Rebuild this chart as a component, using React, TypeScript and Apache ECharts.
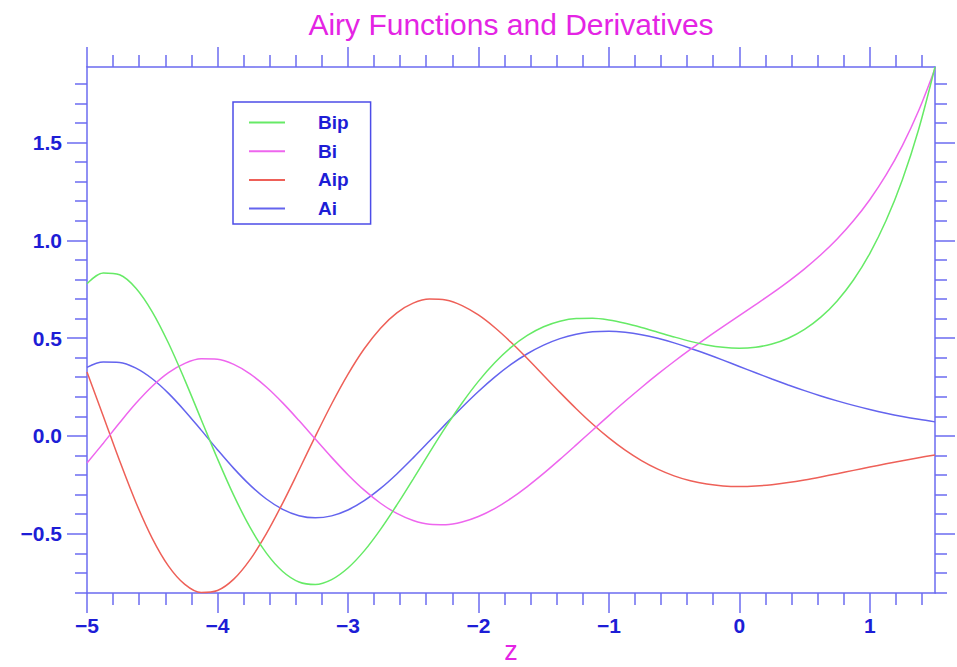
import React, { useEffect, useRef } from 'react';
import * as echarts from 'echarts';

// z sample points (step 0.125)
const Z = [-5, -4.875, -4.75, -4.625, -4.5, -4.375, -4.25, -4.125, -4, -3.875, -3.75, -3.625, -3.5, -3.375, -3.25, -3.125, -3, -2.875, -2.75, -2.625, -2.5, -2.375, -2.25, -2.125, -2, -1.875, -1.75, -1.625, -1.5, -1.375, -1.25, -1.125, -1, -0.875, -0.75, -0.625, -0.5, -0.375, -0.25, -0.125, 0, 0.125, 0.25, 0.375, 0.5, 0.625, 0.75, 0.875, 1, 1.125, 1.25, 1.375, 1.5];
const AI = [0.3508, 0.3776, 0.3759, 0.3465, 0.2922, 0.2174, 0.1278, 0.0297, -0.0703, -0.1659, -0.2516, -0.3226, -0.3755, -0.4079, -0.419, -0.4088, -0.3788, -0.3311, -0.2685, -0.1945, -0.1123, -0.0259, 0.0616, 0.1469, 0.2274, 0.3008, 0.3655, 0.4202, 0.4643, 0.4975, 0.52, 0.5325, 0.5356, 0.5303, 0.5178, 0.4992, 0.4757, 0.4485, 0.4187, 0.3873, 0.355, 0.3228, 0.2912, 0.2607, 0.2317, 0.2045, 0.1793, 0.1562, 0.1353, 0.1164, 0.0996, 0.0848, 0.0718];
const AIP = [0.3272, 0.101, -0.1271, -0.3401, -0.5234, -0.6656, -0.7592, -0.8008, -0.7906, -0.7323, -0.6323, -0.4995, -0.3433, -0.1743, -0.0023, 0.1633, 0.3146, 0.4455, 0.5511, 0.6293, 0.6789, 0.7001, 0.695, 0.6665, 0.6183, 0.5542, 0.4787, 0.3957, 0.3092, 0.2227, 0.1391, 0.0609, -0.0102, -0.0727, -0.126, -0.1698, -0.2041, -0.2294, -0.2464, -0.2559, -0.2588, -0.2562, -0.2491, -0.2383, -0.2249, -0.2096, -0.1932, -0.1762, -0.1591, -0.1425, -0.1265, -0.1114, -0.0974];
const BI = [-0.1384, -0.037, 0.0672, 0.1665, 0.2539, 0.3235, 0.3712, 0.3943, 0.3922, 0.3657, 0.3172, 0.2501, 0.169, 0.0786, -0.016, -0.1097, -0.1981, -0.2773, -0.3442, -0.3963, -0.4324, -0.4515, -0.4539, -0.4404, -0.4123, -0.3713, -0.3195, -0.2589, -0.1918, -0.1201, -0.0459, 0.0293, 0.104, 0.1771, 0.2478, 0.3156, 0.3804, 0.4422, 0.5014, 0.5587, 0.6149, 0.6712, 0.7287, 0.7892, 0.8543, 0.9261, 1.0069, 1.0996, 1.2074, 1.3341, 1.4844, 1.6637, 1.8789];
const BIP = [0.7784, 0.833, 0.824, 0.7552, 0.6347, 0.4738, 0.2855, 0.0841, -0.1167, -0.3042, -0.4678, -0.5993, -0.693, -0.7466, -0.7595, -0.7345, -0.6752, -0.5877, -0.4777, -0.353, -0.2204, -0.0853, 0.0459, 0.1685, 0.2788, 0.374, 0.4525, 0.5137, 0.5579, 0.5861, 0.5998, 0.6011, 0.5924, 0.576, 0.5545, 0.5303, 0.5059, 0.4835, 0.4652, 0.4528, 0.4483, 0.4534, 0.4699, 0.4996, 0.5446, 0.6072, 0.6903, 0.7973, 0.9324, 1.1011, 1.3102, 1.5682, 1.8862];

// axis ranges and tick values
const X_MIN = -5;
const X_MAX = 1.5;
const Y_MIN = -0.8031;
const Y_MAX = 1.8862;
const X_MAJOR = [-5, -4, -3, -2, -1, 0, 1];
const X_MINOR = [-4.8, -4.6, -4.4, -4.2, -3.8, -3.6, -3.4, -3.2, -2.8, -2.6, -2.4, -2.2, -1.8, -1.6, -1.4, -1.2, -0.8, -0.6, -0.4, -0.2, 0.2, 0.4, 0.6, 0.8, 1.2, 1.4];
const Y_MAJOR = [-0.5, 0, 0.5, 1, 1.5];
const Y_MINOR = [-0.8, -0.7, -0.6, -0.4, -0.3, -0.2, -0.1, 0.1, 0.2, 0.3, 0.4, 0.6, 0.7, 0.8, 0.9, 1.1, 1.2, 1.3, 1.4, 1.6, 1.7, 1.8];

const TITLE = 'Airy Functions and Derivatives';
const X_NAME = 'z';
const LEGEND_ORDER = ['Bip', 'Bi', 'Aip', 'Ai'];

const FONT = '"Liberation Sans", Arial, Helvetica, sans-serif';
const AXIS_COLOR = '#6b6bf0';
const LABEL_COLOR = '#1d1dd6';
const TITLE_COLOR = '#e424e4';

const fmtX = (v: number) => (v < 0 ? '\u2212' + String(-v) : String(v));
const fmtY = (v: number) => (v < 0 ? '\u2212' + (-v).toFixed(1) : v.toFixed(1));

function makeX(position: string, ticks: number[], len: number, labels: boolean, line: boolean) {
  return {
    type: 'value',
    position,
    min: X_MIN,
    max: X_MAX,
    axisLine: { show: line, onZero: false, lineStyle: { color: AXIS_COLOR, width: 1.5 } },
    axisTick: { show: true, customValues: ticks, length: len, lineStyle: { color: AXIS_COLOR, width: 1.5 } },
    axisLabel: labels
      ? { show: true, customValues: ticks, margin: 22, color: LABEL_COLOR, fontSize: 21, fontWeight: 'bold', fontFamily: FONT, formatter: fmtX }
      : { show: false },
    splitLine: { show: false },
  };
}

function makeY(position: string, ticks: number[], len: number, labels: boolean, line: boolean) {
  return {
    type: 'value',
    position,
    min: Y_MIN,
    max: Y_MAX,
    axisLine: { show: line, onZero: false, lineStyle: { color: AXIS_COLOR, width: 1.5 } },
    axisTick: { show: true, customValues: ticks, length: len, lineStyle: { color: AXIS_COLOR, width: 1.5 } },
    axisLabel: labels
      ? { show: true, customValues: ticks, margin: 25, color: LABEL_COLOR, fontSize: 21, fontWeight: 'bold', fontFamily: FONT, formatter: fmtY }
      : { show: false },
    splitLine: { show: false },
  };
}

function series(name: string, values: number[], color: string) {
  return {
    name,
    type: 'line',
    xAxisIndex: 0,
    yAxisIndex: 0,
    data: Z.map((z, i) => [z, values[i]]),
    smooth: 0.34,
    symbol: 'none',
    lineStyle: { color, width: 1.5 },
    itemStyle: { color },
  };
}

export default function App() {
  const ref = useRef<HTMLDivElement>(null);
  useEffect(() => {
    document.body.style.margin = '0';
    const chart = echarts.init(ref.current!, null, { renderer: 'svg' });
    const option: any = {
      animation: false,
      backgroundColor: '#ffffff',
      grid: { left: 87, right: 22, top: 67, bottom: 74, containLabel: false, outerBoundsMode: 'none' },
      graphic: [
        {
          type: 'text',
          x: 511,
          y: 9,
          style: { text: TITLE, fill: TITLE_COLOR, fontSize: 30, fontFamily: FONT, textAlign: 'center', textVerticalAlign: 'top' },
        },
        {
          type: 'text',
          x: 511,
          y: 664,
          style: { text: X_NAME, fill: TITLE_COLOR, fontSize: 27, fontFamily: FONT, textAlign: 'center', textVerticalAlign: 'bottom' },
        },
      ],
      xAxis: [
        makeX('bottom', X_MAJOR, 20, true, true),
        makeX('bottom', X_MINOR, 12, false, false),
        makeX('top', X_MAJOR, 20, false, true),
        makeX('top', X_MINOR, 12, false, false),
      ],
      yAxis: [
        makeY('left', Y_MAJOR, 20, true, true),
        makeY('left', Y_MINOR, 12, false, false),
        makeY('right', Y_MAJOR, 20, false, true),
        makeY('right', Y_MINOR, 12, false, false),
      ],
      legend: {
        data: LEGEND_ORDER,
        orient: 'vertical',
        left: 233,
        top: 102,
        padding: [11, 22, 6, 15],
        itemWidth: 36,
        itemHeight: 14,
        itemGap: 9.7,
        borderColor: '#4c4ce8',
        borderWidth: 1.5,
        itemStyle: { opacity: 0 },
        textStyle: { color: LABEL_COLOR, fontSize: 19, fontWeight: 'bold', fontFamily: FONT, padding: [0, 0, 0, 28] },
      },
      series: [
        series('Ai', AI, '#6464ee'),
        series('Aip', AIP, '#ee6058'),
        series('Bi', BI, '#ee66ee'),
        series('Bip', BIP, '#66ea66'),
      ],
    };
    chart.setOption(option);
    return () => chart.dispose();
  }, []);
  return <div ref={ref} style={{ position: 'absolute', left: 0, top: 0, width: 957, height: 667 }} />;
}
